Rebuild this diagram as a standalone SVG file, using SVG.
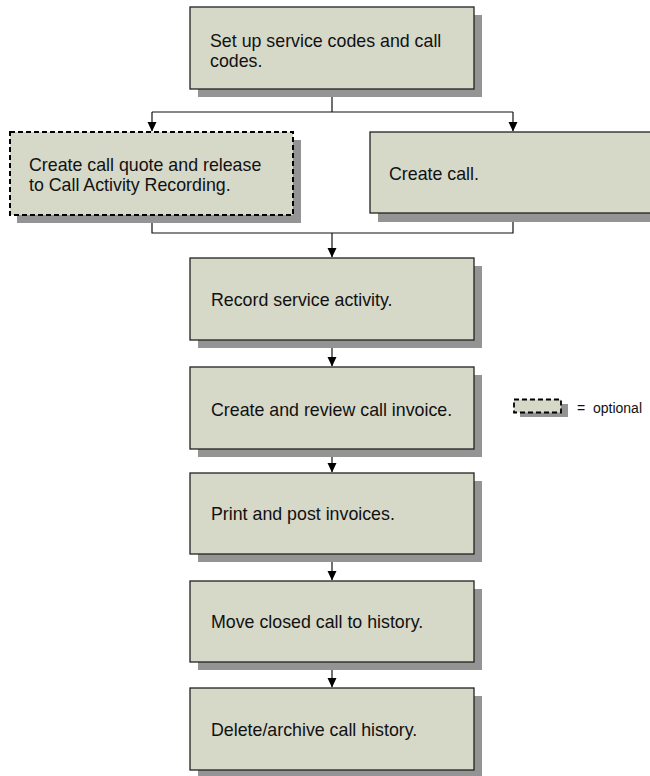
<svg xmlns="http://www.w3.org/2000/svg" width="650" height="776" viewBox="0 0 650 776">
<defs>
<style>
.sh{fill:#949494;}
.bx{fill:#D6D8C8;stroke:#222;stroke-width:1.3;}
.dash{stroke:#000;stroke-dasharray:5,3;stroke-width:2;}
.t{font-family:"Liberation Sans",Arial,sans-serif;font-size:17.8px;fill:#111;}
.lg{font-family:"Liberation Sans",Arial,sans-serif;font-size:14px;fill:#111;}
.ln{fill:none;stroke:#111;stroke-width:1.2;}
</style>
<marker id="ar" markerWidth="10" markerHeight="10" refX="9" refY="5" orient="auto" markerUnits="userSpaceOnUse">
<path d="M0,0.5 L9.5,5 L0,9.5 Z" fill="#000"/>
</marker>
</defs>
<rect width="650" height="776" fill="#fff"/>

<g id="connectors">
<path class="ln" d="M332,89 V112 M152,112 H513"/>
<path class="ln" d="M152,112 V131" marker-end="url(#ar)"/>
<path class="ln" d="M513,112 V131" marker-end="url(#ar)"/>
<path class="ln" d="M152,215 V233 H513 V213"/>
<path class="ln" d="M332,233 V257" marker-end="url(#ar)"/>
<path class="ln" d="M332,340 V366" marker-end="url(#ar)"/>
<path class="ln" d="M332,449 V472" marker-end="url(#ar)"/>
<path class="ln" d="M332,554 V580" marker-end="url(#ar)"/>
<path class="ln" d="M332,662 V687" marker-end="url(#ar)"/>
</g>

<g id="setup">
<rect class="sh" x="198" y="15" width="284" height="82"/>
<rect class="bx" x="190" y="7" width="284" height="82"/>
<text class="t" x="210" y="47">Set up service codes and call</text>
<text class="t" x="210" y="67">codes.</text>
</g>

<g id="quote">
<rect class="sh" x="17" y="140" width="284" height="83"/>
<rect class="bx dash" x="10" y="132" width="283" height="83"/>
<text class="t" x="29" y="171">Create call quote and release</text>
<text class="t" x="29" y="191">to Call Activity Recording.</text>
</g>

<g id="createcall">
<rect class="sh" x="378" y="140" width="290" height="82"/>
<rect class="bx" x="370" y="132" width="290" height="81"/>
<text class="t" x="389" y="180">Create call.</text>
</g>

<g id="record">
<rect class="sh" x="198" y="266" width="284" height="82"/>
<rect class="bx" x="190" y="258" width="284" height="82"/>
<text class="t" x="211" y="306">Record service activity.</text>
</g>

<g id="invoice">
<rect class="sh" x="198" y="375" width="284" height="82"/>
<rect class="bx" x="190" y="367" width="284" height="82"/>
<text class="t" x="211" y="416">Create and review call invoice.</text>
</g>

<g id="print">
<rect class="sh" x="198" y="481" width="284" height="81"/>
<rect class="bx" x="190" y="473" width="284" height="81"/>
<text class="t" x="211" y="520">Print and post invoices.</text>
</g>

<g id="move">
<rect class="sh" x="198" y="589" width="284" height="81"/>
<rect class="bx" x="190" y="581" width="284" height="81"/>
<text class="t" x="211" y="628">Move closed call to history.</text>
</g>

<g id="delete">
<rect class="sh" x="198" y="696" width="284" height="82"/>
<rect class="bx" x="190" y="688" width="284" height="82"/>
<text class="t" x="211" y="736">Delete/archive call history.</text>
</g>

<g id="legend">
<rect class="sh" x="520" y="404" width="48" height="13"/>
<rect class="bx dash" x="514" y="399.5" width="47" height="13" style="stroke-width:1.8"/>
<text class="lg" x="577" y="413" xml:space="preserve">=  optional</text>
</g>
</svg>
